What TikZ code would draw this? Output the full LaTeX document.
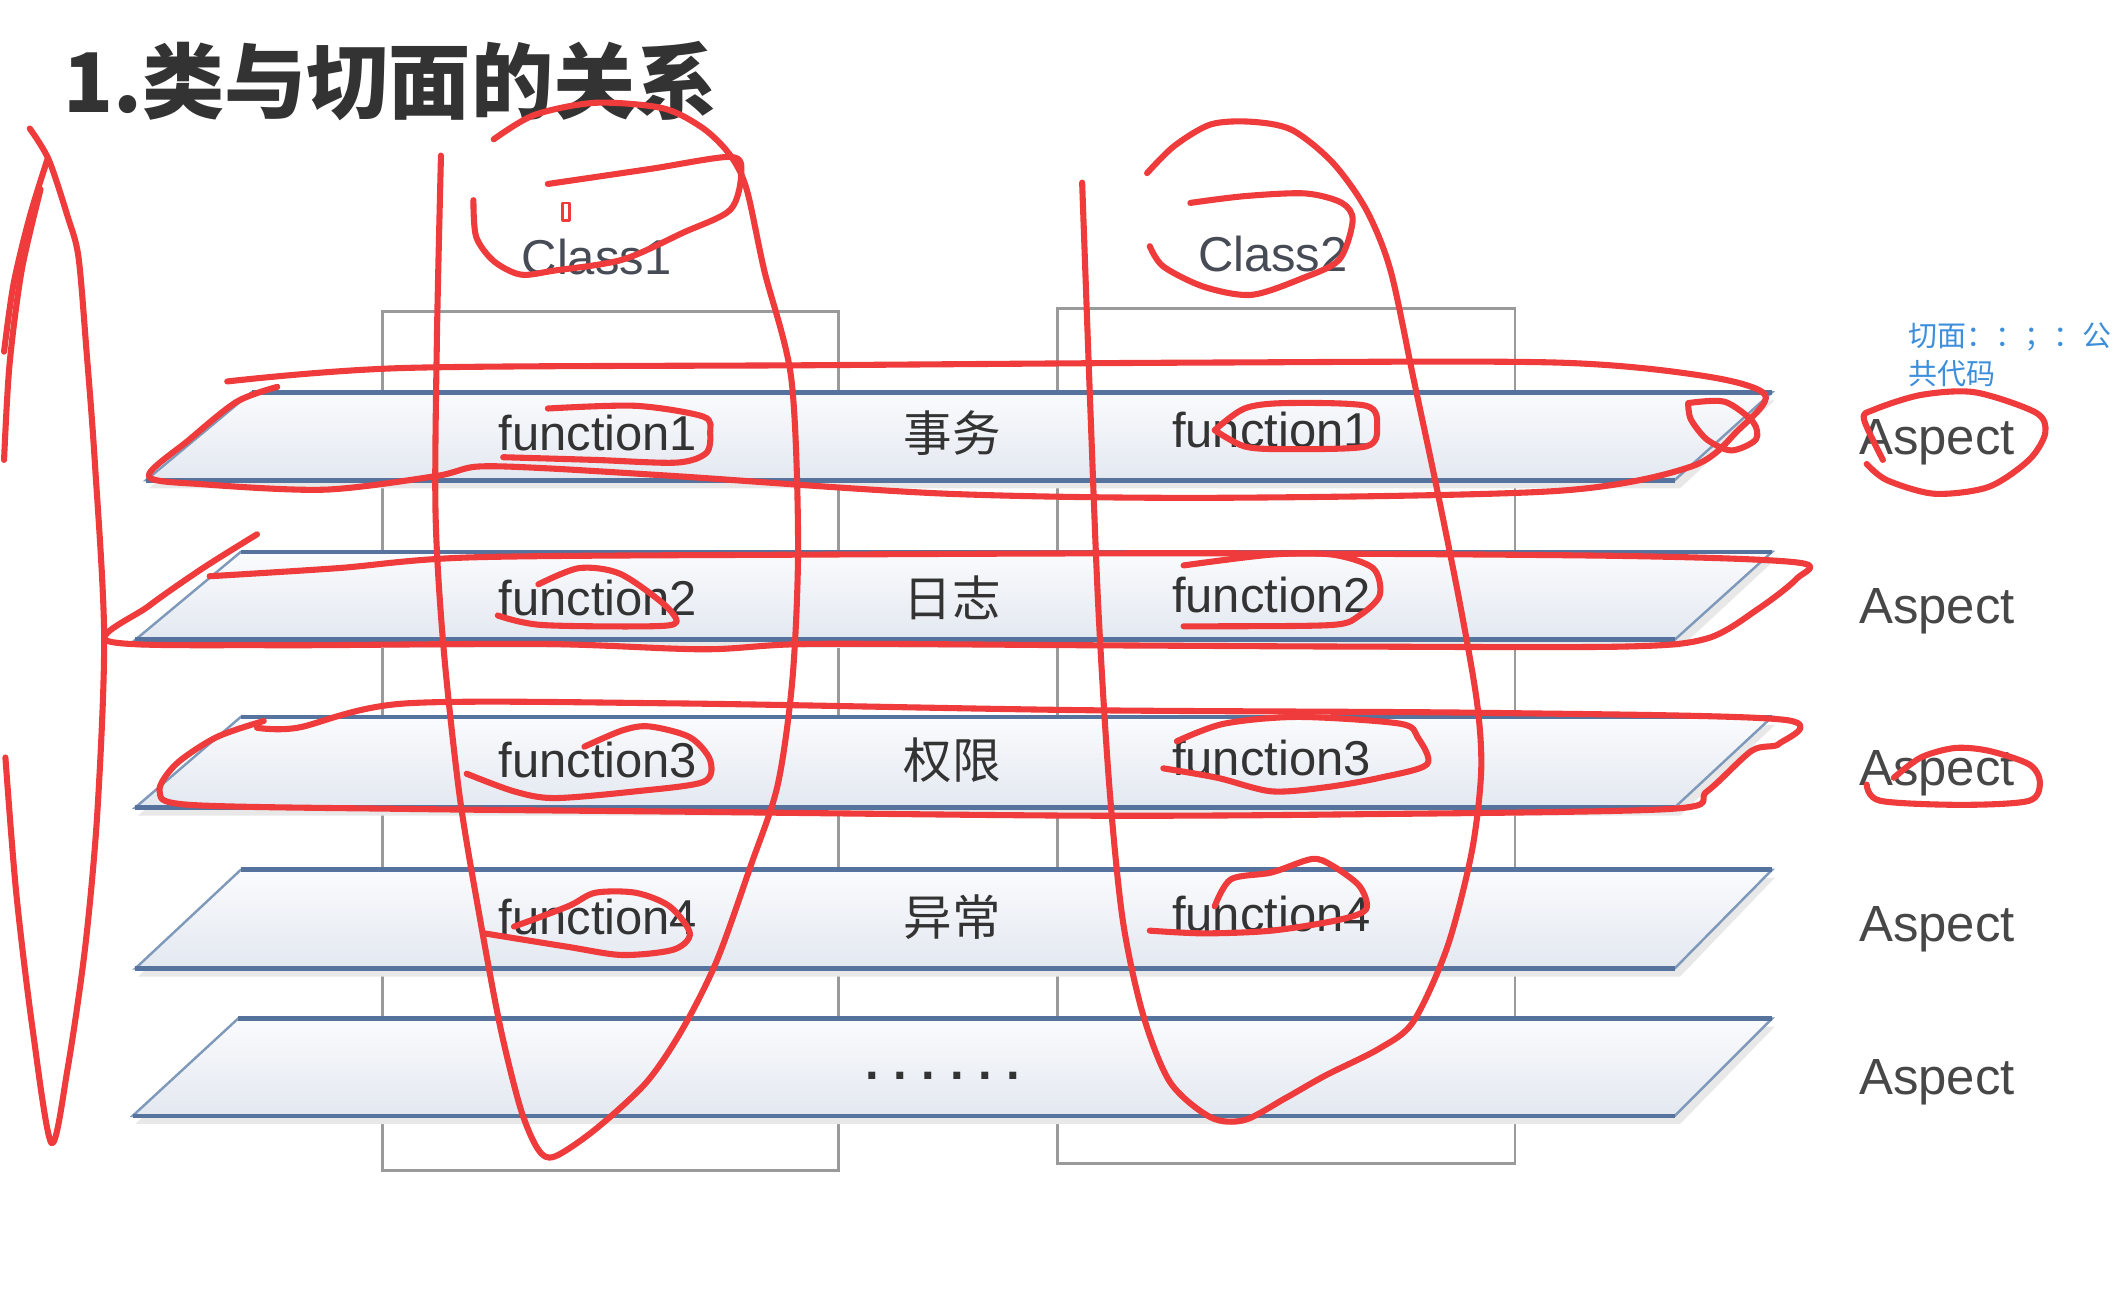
\documentclass[tikz,border=0pt]{standalone}
\usepackage{fontspec}
\setmainfont{Liberation Sans}
\newfontfamily\cjk{Noto Sans CJK SC}
\usetikzlibrary{positioning}

\definecolor{inkred}{HTML}{EF3B3B}
\definecolor{boxgray}{HTML}{9A9A9A}
\definecolor{planeedge}{HTML}{7F99BA}
\definecolor{planerim}{HTML}{55739C}
\definecolor{planetop}{HTML}{FAFBFD}
\definecolor{planebot}{HTML}{E3E8F0}
\definecolor{notblue}{HTML}{3D8FDB}
\definecolor{txtgray}{HTML}{333333}
\definecolor{clsgray}{HTML}{474B55}

\tikzset{
  classbox/.style={draw=boxgray, line width=0.22mm},
  plane/.style={draw=planeedge, line width=0.18mm, top color=planetop, bottom color=planebot},
  planerim/.style={draw=planerim, line width=0.35mm},
  fn/.style={font=\fontsize{10.3}{12}\selectfont, text=txtgray, inner sep=0pt},
  cn/.style={font=\cjk\fontsize{10.2}{12}\selectfont, text=txtgray, inner sep=0pt},
  asp/.style={font=\fontsize{10.7}{12}\selectfont, text=txtgray!90, inner sep=0pt},
  ink/.style={draw=inkred, line width=0.45mm, line cap=round, line join=round},
}

\begin{document}
\begin{tikzpicture}[x=0.1mm, y=-0.1mm]
\useasboundingbox (0,0) rectangle (1568,957);
%-------->title<--------------
\node[anchor=west, inner sep=0pt, text=txtgray, font=\cjk\bfseries\fontsize{17.3}{20}\selectfont] (title) at (46,60) {1.类与切面的关系};
%-------->class boxes<--------------
\draw[classbox] (283,230) rectangle (620,865); % Class1
\draw[classbox] (782,228) rectangle (1120,860); % Class2
\node[fn, text=clsgray] (class1) at (441,190) {Class1};
\node[fn, text=clsgray] (class2) at (941,188) {Class2};
%-------->planes<--------------
\foreach \t/\b/\bl in {290/355/108, 408/473/100, 530/597/100, 643/716/100, 753/825/98}{
  \fill[gray!18] (\bl+80,\t+6) -- (1312,\t+6) -- (1242,\b+6) -- (\bl+2,\b+6) -- cycle;
  \path[plane] (\bl+78,\t) -- (1310,\t) -- (1238,\b) -- (\bl,\b) -- cycle;
  \draw[planerim] (\bl+78,\t) -- (1310,\t) (\bl,\b) -- (1238,\b);
}
%-------->plane texts<--------------
\foreach \y/\n/\w in {320/1/事务, 442/2/日志, 562/3/权限, 678/4/异常}{
  \node[fn] (fa\n) at (442,\y) {function\n};
  \node[cn] (job\n) at (704,\y) {\w};
  \node[fn] (fb\n) at (940,\y-2) {function\n};
}
\node[fn, font=\bfseries\fontsize{10.3}{12}\selectfont] (more) at (697,795) {.\kern0.3em.\kern0.3em.\kern0.3em.\kern0.3em.\kern0.3em.};
%-------->aspects<--------------
\foreach \y [count=\i] in {327,452,572,687,800}
  \node[asp] (asp\i) at (1432,\y) {Aspect};
\node[anchor=north west, align=left, inner sep=0pt, text=notblue, font=\cjk\fontsize{6.1}{8}\selectfont] (note) at (1410,238) {切面：：；：公\\共代码};
%-------->red ink: columns<--------------
\draw[ink] plot[smooth, tension=0.5] coordinates {(22,95) (36,118) (50,160) (58,190) (64,260) (70,340) (77,470) (72,600) (63,700) (50,790) (38,845) (24,760) (12,660) (4,560)};
\draw[ink] plot[smooth, tension=0.5] coordinates {(35,118) (22,160) (10,210) (3,260)};
\draw[ink] plot[smooth, tension=0.5] coordinates {(30,140) (16,200) (7,270) (3,340)};
\draw[ink] plot[smooth, tension=0.5] coordinates {(365,103) (395,85) (440,76) (490,80) (520,95) (540,115) (552,140) (565,200) (585,280) (590,400) (586,500) (575,580) (555,640) (530,710) (505,760) (478,800) (440,835) (410,855) (398,850) (385,820) (370,760) (355,680) (340,590) (328,480) (322,380) (323,250) (326,115)};
\draw[ink] plot[smooth, tension=0.5] coordinates {(350,148) (352,175) (365,193) (385,203) (410,200) (460,192) (505,172) (540,155) (548,128) (540,116) (480,125) (405,136)};
\draw[ink, line width=0.2mm] (416,150) rectangle (421,163);
\draw[ink] plot[smooth, tension=0.5] coordinates {(848,128) (868,108) (895,92) (925,90) (955,96) (985,120) (1010,155) (1028,200) (1045,280) (1062,360) (1080,450) (1092,520) (1095,570) (1088,630) (1070,700) (1045,755) (1020,775) (980,795) (950,812) (920,828) (895,826) (865,800) (845,750) (830,680) (820,580) (812,450) (806,300) (800,135)};
\draw[ink] plot[smooth, tension=0.5] coordinates {(850,182) (860,197) (890,212) (925,218) (962,206) (990,192) (1000,163) (992,150) (965,143) (920,145) (880,150)};
%-------->red ink: planes<--------------
\draw[ink] plot[smooth, tension=0.5] coordinates {(168,282) (300,272) (600,270) (900,268) (1150,268) (1260,278) (1305,292) (1285,318) (1250,345) (1150,363) (900,368) (700,365) (500,352) (400,346) (352,345) (322,352) (240,362) (150,358) (110,352) (140,325) (175,297) (205,286)};
\draw[ink] plot[smooth, tension=0.5] coordinates {(1248,298) (1275,297) (1296,312) (1298,325) (1280,333) (1262,325) (1250,310) (1248,298)};
\draw[ink] plot[smooth, tension=0.5] coordinates {(190,395) (150,420) (110,448) (80,474) (200,477) (400,476) (520,480) (600,476) (800,477) (1000,478) (1200,478) (1262,472) (1300,450) (1328,428) (1330,416) (1200,411) (900,409) (600,410) (350,412) (250,420) (155,426)};
\draw[ink] plot[smooth, tension=0.5] coordinates {(195,533) (160,545) (130,565) (118,585) (140,595) (300,598) (500,600) (800,603) (1000,602) (1235,598) (1262,585) (1295,555) (1315,550) (1318,532) (1100,527) (800,525) (500,520) (300,520) (220,538) (190,538)};
%-------->red ink: functions<--------------
\draw[ink] plot[smooth, tension=0.5] coordinates {(372,338) (440,340) (500,342) (522,335) (525,320) (520,308) (470,300) (405,302)};
\draw[ink] plot[smooth, tension=0.5] coordinates {(368,455) (400,462) (480,463) (500,460) (490,446) (458,424) (428,420) (398,432)};
\draw[ink] plot[smooth, tension=0.5] coordinates {(345,572) (380,585) (410,590) (470,585) (520,578) (525,562) (510,545) (480,537) (460,540) (432,552)};
\draw[ink] plot[smooth, tension=0.5] coordinates {(358,690) (420,700) (460,706) (498,702) (510,690) (495,670) (470,660) (440,660) (420,670) (380,685)};
\draw[ink] plot[smooth, tension=0.5] coordinates {(898,318) (920,302) (950,298) (1010,300) (1018,315) (1010,330) (950,332) (920,330) (898,318)};
\draw[ink] plot[smooth, tension=0.5] coordinates {(875,418) (940,410) (985,410) (1015,420) (1020,440) (1005,455) (985,462) (900,463) (875,463)};
\draw[ink] plot[smooth, tension=0.5] coordinates {(860,568) (900,575) (940,585) (980,582) (1020,575) (1055,565) (1048,545) (1035,535) (960,530) (905,535) (870,548)};
\draw[ink] plot[smooth, tension=0.5] coordinates {(850,688) (890,690) (940,688) (990,680) (1010,672) (1005,655) (985,640) (970,635) (940,645) (910,650) (898,670)};
%-------->red ink: aspects<--------------
\draw[ink] plot[smooth, tension=0.5] coordinates {(1392,340) (1378,310) (1385,303) (1420,292) (1460,290) (1505,305) (1512,320) (1500,340) (1470,360) (1430,365) (1395,355) (1380,343)};
\draw[ink] plot[smooth, tension=0.5] coordinates {(1400,575) (1420,560) (1445,553) (1470,555) (1500,565) (1508,578) (1500,592) (1450,595) (1390,592) (1380,580)};
\end{tikzpicture}
\end{document}
